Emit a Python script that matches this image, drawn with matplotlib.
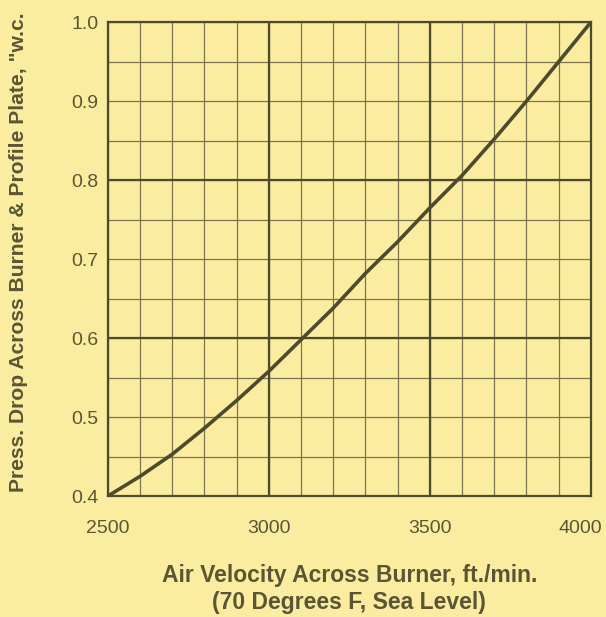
import matplotlib
matplotlib.use("Agg")
import matplotlib.pyplot as plt
import matplotlib.transforms as mtransforms
from matplotlib.ticker import MultipleLocator

velocity = [2500, 2600, 2700, 2800, 2900, 3000, 3100, 3200, 3300, 3400,
            3500, 3600, 3700, 3800, 3900, 4000]
pressure = [0.400, 0.425, 0.453, 0.486, 0.521, 0.558, 0.598, 0.638, 0.682,
            0.722, 0.765, 0.806, 0.852, 0.900, 0.950, 1.000]
x_ticks = [2500, 3000, 3500, 4000]
y_ticks = [0.4, 0.5, 0.6, 0.7, 0.8, 0.9, 1.0]

bg = "#fbeda0"
ink = "#4d4a30"
txt = "#5a5535"

plt.rcParams["font.family"] = ["Liberation Sans", "DejaVu Sans"]

fig = plt.figure(figsize=(6.06, 6.17), dpi=100, facecolor=bg)
ax = fig.add_axes([0.178, 0.196, 0.797, 0.768], facecolor=bg)

ax.set_xlim(2500, 4000)
ax.set_ylim(0.4, 1.0)

ax.xaxis.set_minor_locator(MultipleLocator(100))
ax.yaxis.set_minor_locator(MultipleLocator(0.05))
ax.set_xticks(x_ticks)
ax.set_yticks(y_ticks)
ax.set_xticklabels([str(v) for v in x_ticks])
ax.set_yticklabels([f"{v:.1f}" for v in y_ticks])

ax.grid(which="minor", color="#7d7450", linewidth=0.9)
ax.grid(which="major", color="#7d7450", linewidth=0.9)
for xv in [3000, 3500]:
    ax.axvline(xv, color=ink, linewidth=1.6, zorder=1.5)
for yv in [0.6, 0.8]:
    ax.axhline(yv, color=ink, linewidth=1.6, zorder=1.5)
ax.set_axisbelow(True)

for s in ax.spines.values():
    s.set_color(ink)
    s.set_linewidth(1.6)

ax.tick_params(which="both", length=0)
ax.tick_params(axis="x", pad=17, labelsize=14, labelcolor=txt)
ax.tick_params(axis="y", pad=7, labelsize=14, labelcolor=txt)

last = ax.get_xticklabels()[-1]
last.set_transform(last.get_transform() +
                   mtransforms.ScaledTranslation(-11 / 100, 0, fig.dpi_scale_trans))

ax.plot(velocity, pressure, color=ink, linewidth=2.6, zorder=3,
        solid_capstyle="round", solid_joinstyle="round")

ax.set_xlabel("Air Velocity Across Burner, ft./min.\n(70 Degrees F, Sea Level)",
              fontsize=16.5, fontweight="bold", color=txt, labelpad=20,
              linespacing=1.18)
ax.set_ylabel('Press. Drop Across Burner & Profile Plate, "w.c.',
              fontsize=15.2, fontweight="bold", color=txt)
ax.yaxis.set_label_coords(-0.165, 0.515)

fig.savefig("out.png", dpi=100, facecolor=bg)
